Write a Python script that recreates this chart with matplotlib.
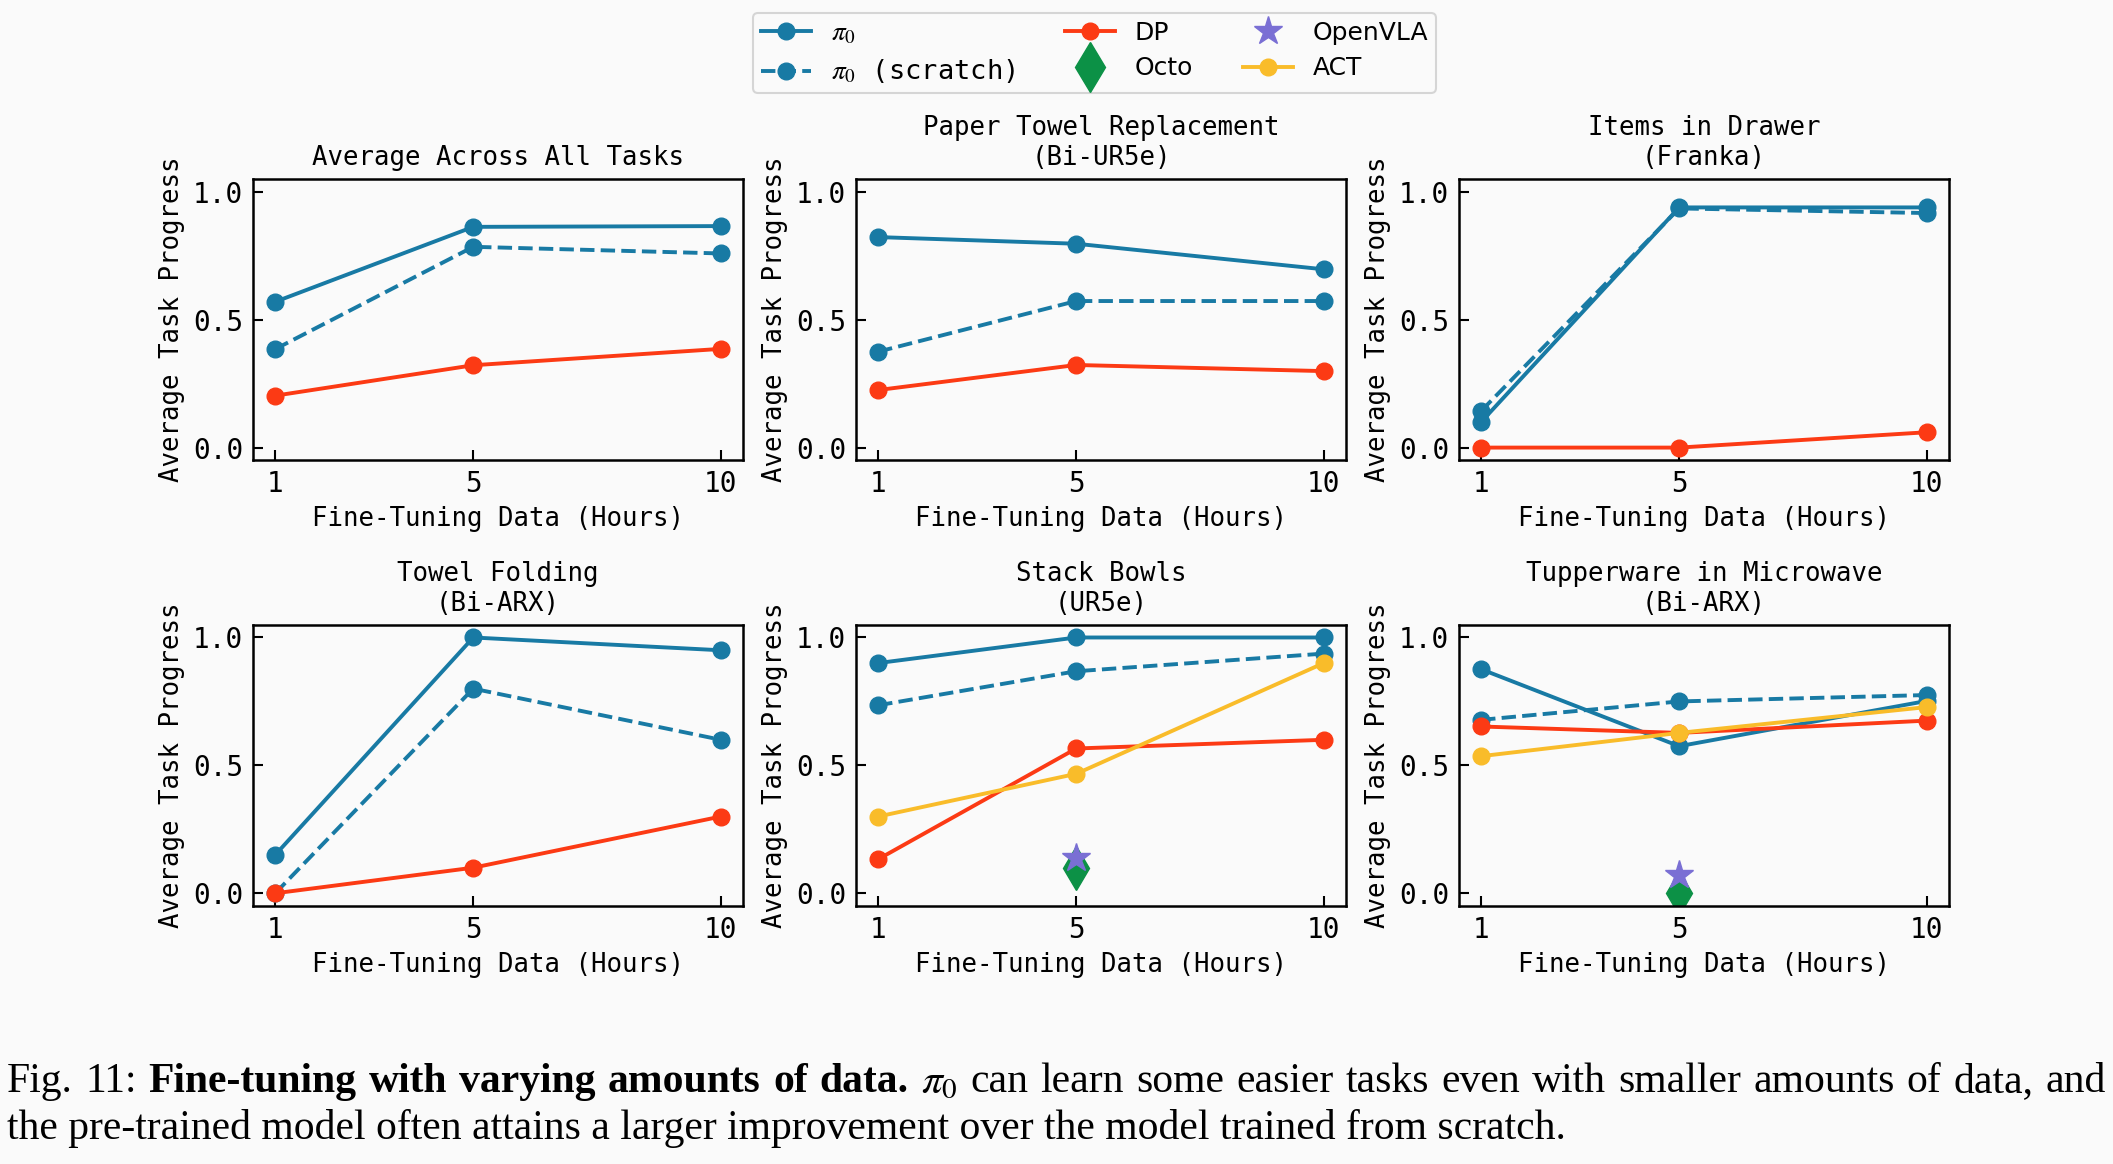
import numpy as np
import matplotlib
matplotlib.use("Agg")
import matplotlib.pyplot as plt
from matplotlib.lines import Line2D

# Fine-tuning hours on the x axis
hours = [1, 5, 10]

titles = ["Average Across All Tasks",
          "Paper Towel Replacement\n(Bi-UR5e)",
          "Items in Drawer\n(Franka)",
          "Towel Folding\n(Bi-ARX)",
          "Stack Bowls\n(UR5e)",
          "Tupperware in Microwave\n(Bi-ARX)"]

# values per task, in the same order as titles
pi0 = [[0.57, 0.863, 0.866],
       [0.823, 0.797, 0.697],
       [0.10, 0.939, 0.939],
       [0.15, 1.00, 0.95],
       [0.90, 1.00, 1.00],
       [0.876, 0.575, 0.752]]
pi0_scratch = [[0.385, 0.785, 0.759],
               [0.375, 0.573, 0.573],
               [0.143, 0.935, 0.917],
               [0.00, 0.80, 0.60],
               [0.735, 0.868, 0.937],
               [0.678, 0.750, 0.775]]
dp = [[0.203, 0.322, 0.386],
      [0.225, 0.323, 0.299],
      [0.00, 0.00, 0.06],
      [0.00, 0.10, 0.30],
      [0.133, 0.566, 0.60],
      [0.652, 0.627, 0.675]]
# ACT only on the last two tasks (index -> values)
act = {4: [0.30, 0.467, 0.90],
       5: [0.536, 0.627, 0.728]}
# OpenVLA / Octo evaluated only at 5 hours
openvla = {4: 0.137, 5: 0.072}
octo = {4: 0.097, 5: 0.0}

BLUE = "#187aa4"
RED = "#fc3a14"
YELLOW = "#f9bc2a"
GREEN = "#0c9146"
PURPLE = "#7a6fd4"
BG = "#fafafa"

MONO = "DejaVu Sans Mono"
plt.rcParams["mathtext.fontset"] = "stix"
plt.rcParams["font.family"] = MONO

fig, axes = plt.subplots(2, 3, figsize=(21.13, 11.64), dpi=100, facecolor=BG)
fig.subplots_adjust(left=0.1197, right=0.9224, top=0.8462, bottom=0.2216,
                    wspace=0.23, hspace=0.584)

lw = 2.8
ms = 12
for i, ax in enumerate(axes.flat):
    ax.set_facecolor(BG)
    ax.plot(hours, pi0[i], "-o", color=BLUE, lw=lw, ms=ms)
    ax.plot(hours, pi0_scratch[i], "--o", color=BLUE, lw=lw, ms=ms)
    ax.plot(hours, dp[i], "-o", color=RED, lw=lw, ms=ms)
    if i in act:
        ax.plot(hours, act[i], "-o", color=YELLOW, lw=lw, ms=ms)
    if i in octo:
        ax.plot([5], [octo[i]], "d", color=GREEN, ms=22)
    if i in openvla:
        ax.plot([5], [openvla[i]], "*", color=PURPLE, ms=21)

    ax.set_xlim(0.55, 10.45)
    ax.set_ylim(-0.05, 1.05)
    ax.set_xticks(hours)
    ax.set_yticks([0.0, 0.5, 1.0])
    ax.tick_params(direction="in", length=7, width=1.5, labelsize=20, pad=7)
    for s in ax.spines.values():
        s.set_linewidth(1.8)
    ax.set_title(titles[i], fontsize=18.5, pad=10, linespacing=1.2)
    ax.set_xlabel("Fine-Tuning Data (Hours)", fontsize=18.5, labelpad=6)
    ax.set_ylabel("Average Task Progress", fontsize=18.5, labelpad=6)

handles = [Line2D([], [], color=BLUE, lw=lw, marker="o", ms=ms),
           Line2D([], [], color=BLUE, lw=lw, ls="--", marker="o", ms=ms),
           Line2D([], [], color=RED, lw=lw, marker="o", ms=ms),
           Line2D([], [], color=GREEN, ls="none", marker="d", ms=25),
           Line2D([], [], color=PURPLE, ls="none", marker="*", ms=21),
           Line2D([], [], color=YELLOW, lw=lw, marker="o", ms=ms)]
labels = [r"$\pi_0$", r"$\pi_0$ (scratch)", "DP", "Octo", "OpenVLA", "ACT"]
leg = fig.legend(handles, labels, ncol=3, loc="upper center",
                 bbox_to_anchor=(0.518, 1.0), frameon=True,
                 prop={"family": "DejaVu Sans", "size": 18},
                 handlelength=2.0, columnspacing=2.0, labelspacing=0.45,
                 borderpad=0.3)
leg.get_frame().set_facecolor(BG)
leg.get_frame().set_edgecolor("#cccccc")
leg.get_frame().set_linewidth(1.5)
for k in (0, 1):
    leg.get_texts()[k].set_fontsize(19.5)
leg.get_texts()[1].set_family(MONO)

# caption, first line justified word by word
SERIF = "Liberation Serif"
csize = 30
words = [("Fig.", "normal"), ("11:", "normal")]
words += [(w, "bold") for w in "Fine-tuning with varying amounts of data.".split()]
words += [(r"$\pi_0$", "normal")]
words += [(w, "normal") for w in
          "can learn some easier tasks even with smaller amounts of data, and".split()]

renderer = fig.canvas.get_renderer()
W, H = fig.bbox.width, fig.bbox.height
x0, x1 = 7 / W, 2106 / W
y1 = 1 - 1092 / H
y2 = 1 - 1139 / H
texts = []
widths = []
for w, weight in words:
    t = fig.text(0, y1, w, family=SERIF, fontsize=csize, weight=weight,
                 va="baseline", ha="left")
    texts.append(t)
    widths.append(t.get_window_extent(renderer).width / W)
gap = (x1 - x0 - sum(widths)) / (len(words) - 1)
x = x0
for t, wd in zip(texts, widths):
    t.set_x(x)
    x += wd + gap

fig.text(x0, y2, "the pre-trained model often attains a larger improvement over "
         "the model trained from scratch.", family=SERIF, fontsize=csize,
         va="baseline", ha="left")

fig.savefig("out.png", dpi=100, facecolor=BG)
